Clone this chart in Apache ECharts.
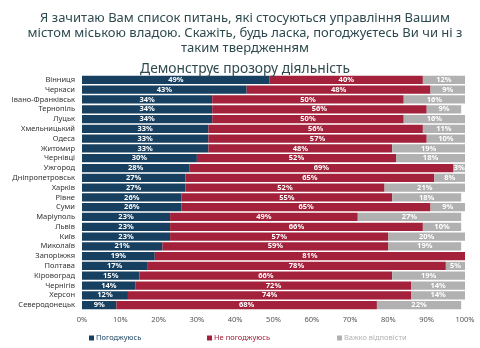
<!DOCTYPE html>
<html><head><meta charset="utf-8">
<script src="https://cdn.jsdelivr.net/npm/echarts@6/dist/echarts.min.js"></script>
<style>html,body{margin:0;padding:0;background:#fff}#c{width:480px;height:348px}</style>
</head><body><div id="c"></div>
<script>
const categories = ['Вінниця','Черкаси','Івано-Франківськ','Тернопіль','Луцьк','Хмельницький','Одеса','Житомир','Чернівці','Ужгород','Дніпропетровськ','Харків','Рівне','Суми','Маріуполь','Львів','Київ','Миколаїв','Запоріжжя','Полтава','Кіровоград','Чернігів','Херсон','Северодонецьк'];
const agree =    [49,43,34,34,34,33,33,33,30,28,27,27,26,26,23,23,23,21,19,17,15,14,12,9];
const disagree = [40,48,50,56,50,56,57,48,52,69,65,52,55,65,49,66,57,59,81,78,66,72,74,68];
const hard =     [12, 9,16, 9,16,11,10,19,18, 3, 8,21,18, 9,27,10,20,19, 0, 5,19,14,14,22];
const xTicks = [0,10,20,30,40,50,60,70,80,90,100];
const seriesNames = ['Погоджуюсь','Не погоджуюсь','Важко відповісти'];
const colors = ['#173f5f','#a3213a','#b1b1b1'];

const chart = echarts.init(document.getElementById('c'));
const font = 'Noto Sans';
const mk = (name, data, color) => ({
  name, type: 'bar', stack: 'a', data, barCategoryGap: '16%',
  itemStyle: { color },
  label: { show: true, position: 'inside', color: '#fff', fontSize: 7.5, fontWeight: 'bold', fontFamily: font,
    formatter: p => p.value > 0 ? p.value + '%' : '' }
});
const legendLefts = [84, 202, 332];
chart.setOption({
  animation: false,
  title: [
    { text: 'Я зачитаю Вам список питань, які стосуються управління Вашим\nмістом міською владою. Скажіть, будь ласка, погоджуєтесь Ви чи ні з\nтаким твердженням',
      left: 240, top: 6, textAlign: 'center',
      textStyle: { fontFamily: font, fontSize: 13, fontWeight: 'normal', color: '#2e4a4f', lineHeight: 15 } },
    { text: 'Демонструє прозору діяльність', left: 240, top: 57, textAlign: 'center',
      textStyle: { fontFamily: font, fontSize: 13.8, fontWeight: 'normal', color: '#2e4a4f' } }
  ],
  grid: { left: 82, right: 15, top: 75, bottom: 38, containLabel: false },
  xAxis: { type: 'value', min: 0, max: 100, interval: 10,
    axisLine: { show: false }, axisTick: { show: false }, splitLine: { show: false },
    axisLabel: { formatter: v => v + '%', fontSize: 7.5, color: '#555', fontFamily: font, margin: 6 } },
  yAxis: { type: 'category', data: categories, inverse: true,
    axisLine: { show: false }, axisTick: { show: false },
    axisLabel: { interval: 0, fontSize: 7.5, color: '#333', fontFamily: font, margin: 7 } },
  legend: seriesNames.map((n, i) => ({
    bottom: 1, left: legendLefts[i], itemWidth: 5, itemHeight: 5, icon: 'rect',
    data: [{ name: n, textStyle: { color: colors[i] } }],
    textStyle: { fontSize: 7.5, fontFamily: font, padding: [0, 0, 0, -3] } })),
  series: [mk(seriesNames[0], agree, colors[0]), mk(seriesNames[1], disagree, colors[1]), mk(seriesNames[2], hard, colors[2])]
});
</script></body></html>
